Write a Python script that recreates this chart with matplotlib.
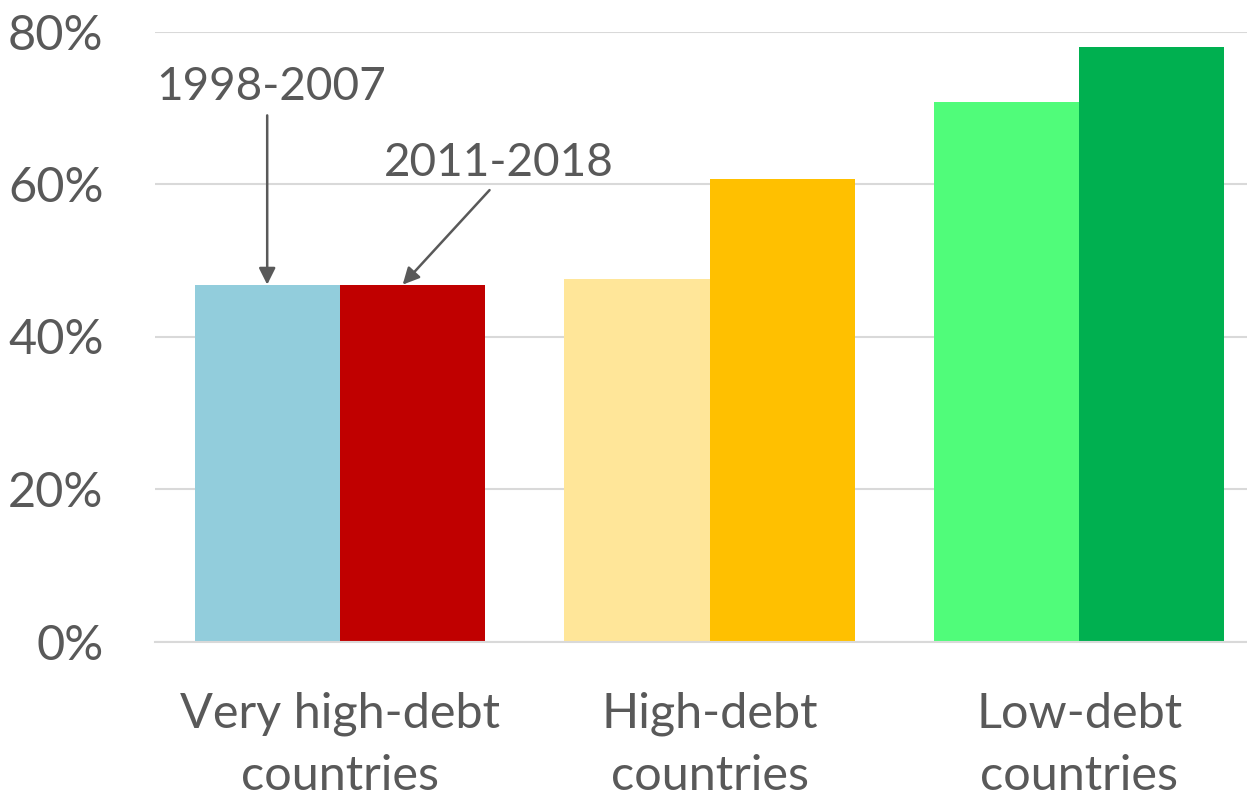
import numpy as np
import matplotlib.pyplot as plt
from matplotlib.ticker import PercentFormatter

# shares by debt group, two periods
groups = ['Very high-debt\ncountries', 'High-debt\ncountries', 'Low-debt\ncountries']
early = [46.8, 47.5, 70.8]   # 1998-2007
late = [46.8, 60.6, 78.0]    # 2011-2018
early_colors = ['#92CDDC', '#FFE699', '#50FC7A']
late_colors = ['#C00000', '#FFC000', '#00B050']

gray = '#595959'
plt.rcParams['font.family'] = ['Lato', 'DejaVu Sans']

fig = plt.figure(figsize=(12.47, 7.96), dpi=100)
ax = fig.add_axes([155 / 1247, 1 - 641.5 / 796, 1 - 155 / 1247, (641.5 - 31.5) / 796])

x = np.arange(len(groups))
w = 0.393
ax.bar(x - w / 2, early, w, color=early_colors)
ax.bar(x + w / 2, late, w, color=late_colors)

ax.set_ylim(0, 80)
ax.set_xlim(-0.5, 2.454)
ax.set_yticks([0, 20, 40, 60, 80])
ax.yaxis.set_major_formatter(PercentFormatter(decimals=0))
ax.grid(axis='y', color='#D9D9D9', linewidth=1.5)
ax.set_axisbelow(True)
for s in ['top', 'right', 'left']:
    ax.spines[s].set_visible(False)
ax.spines['bottom'].set_color('#D9D9D9')
ax.spines['bottom'].set_linewidth(1.5)
ax.tick_params(length=0, labelsize=35, colors=gray, pad=37)
ax.tick_params(axis='x', pad=36)
ax.set_xticks(x)
ax.set_xticklabels(groups, linespacing=1.5)

arrow = dict(arrowstyle='-|>', color=gray, lw=1.8, mutation_scale=25, shrinkA=0, shrinkB=0)
ax.annotate('', xy=(x[0] - w / 2, early[0]), xytext=(x[0] - w / 2, 69.0), arrowprops=arrow)
ax.text(x[0] - 0.185, 71.0, '1998-2007', ha='center', va='baseline', fontsize=33, color=gray)
ax.annotate('', xy=(x[0] + 0.17, late[0]), xytext=(x[0] + 0.405, 59.2), arrowprops=arrow)
ax.text(x[0] + 0.43, 61.0, '2011-2018', ha='center', va='baseline', fontsize=33, color=gray)

fig.savefig('out.png', dpi=100)
